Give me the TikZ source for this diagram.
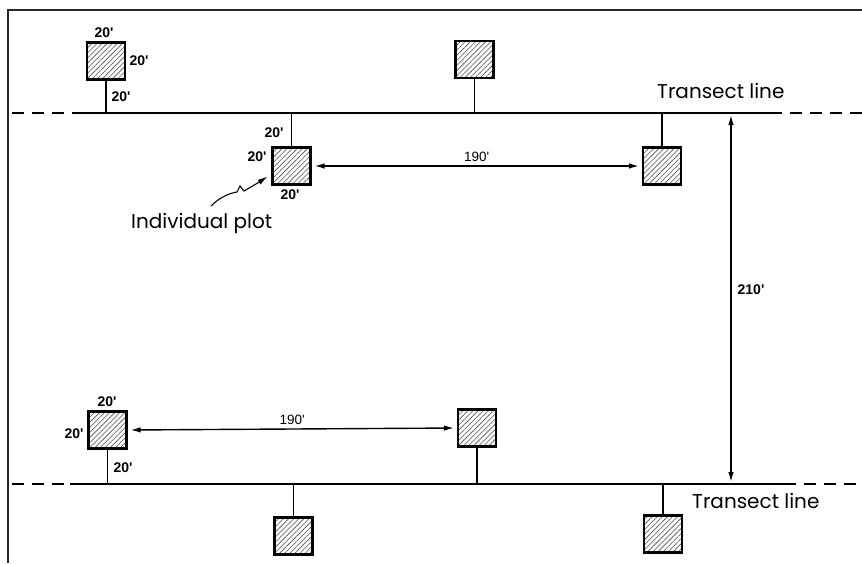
\documentclass[tikz,border=0pt]{standalone}
\usepackage{fontspec}
\setmainfont{Poppins}
\newfontfamily\dimfont{Liberation Sans}
\usetikzlibrary{positioning, arrows.meta, patterns.meta, calc}
\newcommand{\ft}[1]{#1\textquotesingle}

\begin{document}
\begin{tikzpicture}[x=1pt, y=-1pt,
    plot/.style={rectangle, draw, line width=2.1pt, minimum width=38pt, minimum height=37pt, inner sep=0pt,
      pattern={Lines[angle=45, distance=3.6pt, line width=0.6pt]}, pattern color=black!70},
    tline/.style={line width=2.1pt},
    tdash/.style={line width=1.7pt, dash pattern=on 12pt off 8pt},
    stem/.style={line width=1.9pt},
    dimarr/.style={{Latex[length=10pt, width=5.5pt]}-{Latex[length=10pt, width=5.5pt]}, line width=1.4pt, shorten <=3pt, shorten >=3pt},
    dim/.style={font=\dimfont\bfseries\fontsize{14}{15}\selectfont, inner sep=0pt},
    dimr/.style={font=\dimfont\fontsize{13.5}{15}\selectfont, inner sep=0pt},
    lbl/.style={font=\fontsize{20}{22}\selectfont, inner sep=0pt},
  ]
    \useasboundingbox (0,0) rectangle (862,563);

    % Frame (top and left only)
    \draw[line width=1.3pt, black!85] (8,563) -- (8,10) -- (862,10);

    % Transect lines
    \coordinate (t1w) at (12,113);
    \coordinate (t1a) at (75,113);
    \coordinate (t1b) at (782,113);
    \coordinate (t1e) at (862,113);
    \coordinate (t2w) at (12,484);
    \coordinate (t2a) at (70,484);
    \coordinate (t2b) at (796,484);
    \coordinate (t2e) at (862,484);
    \draw[tdash] (t1w) -- (t1a);
    \draw[tline] (t1a) -- (t1b);
    \draw[tdash] (t1b) ++(8,0) -- (t1e);
    \draw[tdash] (t2w) -- (t2a);
    \draw[tline] (t2a) -- (t2b);
    \draw[tdash] (t2b) ++(8,0) -- (t2e);

    % Plots along the upper line
    \node[plot] (pa) at (106,61) {};
    \node[plot] (pb) at (474.5,59.5) {};
    \node[plot] (pc) at (291.5,166) {};
    \node[plot] (pd) at (662,166) {};

    % Plots along the lower line
    \node[plot] (pe) at (107.5,430) {};
    \node[plot] (pf) at (477,428) {};
    \node[plot] (pg) at (293.5,536) {};
    \node[plot] (ph) at (663,534) {};

    % Stems
    \draw[stem] (pa.south) -- (pa.south |- t1a);
    \draw[stem] (pb.south) -- (pb.south |- t1a);
    \draw[stem] (pc.north) -- (pc.north |- t1a);
    \draw[stem] (pd.north) -- (pd.north |- t1a);
    \draw[stem] (pe.south) -- (pe.south |- t2a);
    \draw[stem] (pf.south) -- (pf.south |- t2a);
    \draw[stem] (pg.north) -- (pg.north |- t2a);
    \draw[stem] (ph.north) -- (ph.north |- t2a);

    % Spacing between plots
    \draw[dimarr] (pc.east) -- (pd.west) node[midway, above=4pt, dimr] {\ft{190}};
    \draw[dimarr] (pe.east) -- (pf.west) node[midway, above=4pt, dimr] {\ft{190}};

    % Spacing between lines
    \coordinate (s1) at (731,113);
    \coordinate (s2) at (731,484);
    \draw[dimarr, shorten <=2pt, shorten >=2pt] (s1) -- (s2);
    \node[dim] (w210) at (751,290) {\ft{210}};

    % Plot size labels
    \node[dim] (a1) at (104,33) {\ft{20}};
    \node[dim] (a2) at (139,61) {\ft{20}};
    \node[dim] (a3) at (121,97) {\ft{20}};
    \node[dim] (c1) at (274,133) {\ft{20}};
    \node[dim] (c2) at (257,157) {\ft{20}};
    \node[dim] (c3) at (290,195) {\ft{20}};
    \node[dim] (e1) at (107,402) {\ft{20}};
    \node[dim] (e2) at (74,434) {\ft{20}};
    \node[dim] (e3) at (123,468) {\ft{20}};

    % Line labels
    \node[lbl, anchor=base west] (tl1) at (657,98) {Transect line};
    \node[lbl, anchor=base west] (tl2) at (692,508) {Transect line};

    % Individual plot callout
    \node[lbl, anchor=base west] (ip) at (131,228) {Individual plot};
    \coordinate (ips) at (211,206);
    \draw[line width=1.1pt, -{Latex[length=10pt, width=5.5pt]}] (ips) .. controls (220,197) and (230,193) .. (237,192)
      -- (240,186) -- (244,191) .. controls (252,187) .. ($(pc.south west)+(-4,-9)$);
  \end{tikzpicture}
\end{document}
